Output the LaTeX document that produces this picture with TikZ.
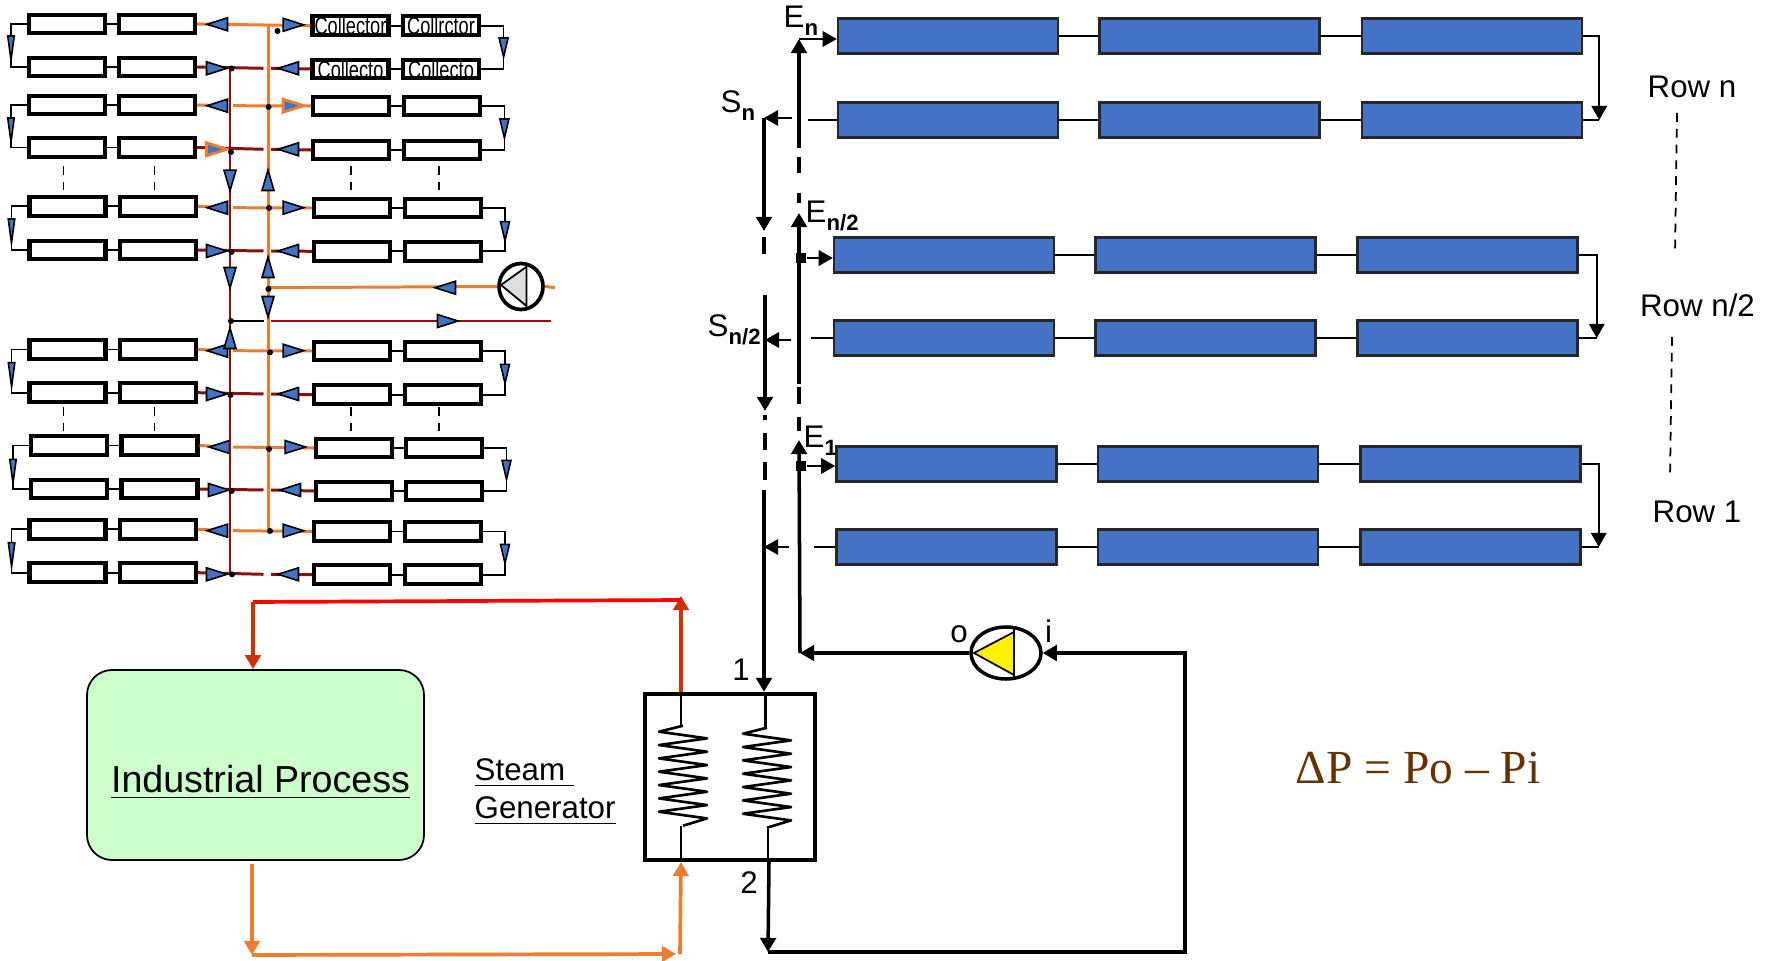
\documentclass[tikz,border=0pt]{standalone}
\usepackage{fontspec}
\setmainfont{Liberation Sans}
\newfontfamily\formulafont{Liberation Serif}
\usetikzlibrary{arrows.meta,shapes.geometric,calc}
\definecolor{tipblue}{HTML}{4472C4}
\definecolor{hotline}{HTML}{ED7D31}
\definecolor{coldline}{HTML}{8E0F0F}
\definecolor{steamred}{HTML}{CC3300}
\definecolor{procgreen}{HTML}{CCFFCC}
\definecolor{formulabrown}{HTML}{663300}
\newcommand{\colltext}[1]{\smash{\makebox[0pt]{\raisebox{-2.6pt}{\scalebox{0.74}[1]{\fontsize{7}{7}\selectfont #1}}}}}
\newcommand{\sublab}[2]{#1\raisebox{-2pt}{\fontsize{6.3}{7}\selectfont\bfseries #2}}
\tikzset{
    collbox/.style={draw, fill=white, line width=1.15pt, inner sep=0pt, minimum width=7.6mm, minimum height=1.85mm},
    plantbox/.style={draw=black!85, fill=tipblue, line width=0.7pt, inner sep=0pt, minimum width=22mm, minimum height=3.5mm},
    flowtip/.style={isosceles triangle, isosceles triangle stretches, draw=black, fill=tipblue, line width=0.45pt, inner sep=0pt, outer sep=0pt, minimum width=1.3mm, minimum height=2.05mm, anchor=apex},
    hottip/.style={flowtip, draw=hotline, line width=0.8pt},
    looptip/.style={flowtip, minimum width=0.65mm, minimum height=2.4mm},
    sidetip/.style={flowtip, minimum width=0.9mm, minimum height=1.9mm},
    dotnode/.style={circle, fill=black, inner sep=0pt, minimum size=0.6mm},
    sqnode/.style={rectangle, fill=black, inner sep=0pt, minimum size=1mm},
    wire/.style={line width=0.5pt},
    mainline/.style={line width=1pt},
    hotpipe/.style={hotline, line width=0.85pt},
    coldpipe/.style={coldline, line width=0.85pt},
    tipend/.style={-{Triangle[length=4pt,width=4.4pt]}},
    labeltext/.style={font=\fontsize{8.9}{10.8}\selectfont, inner sep=0pt, anchor=base},
    coil/.pic={\draw[line width=0.75pt, line join=round] (0,0) -- (-24,6) \foreach \k in {1,...,6} {-- ++(48,6.67) -- ++(-48,6.67)} -- ++(48,6.67) -- ++(-24,7.3);}
}
\begin{document}
\begin{tikzpicture}[x=0.1mm, y=-0.1mm]
    \useasboundingbox (0,0) rectangle (1771,961);
    \foreach \r/\xa/\xb/\y in {1/67/157/24, 2/67/157/67, 3/67/157/105, 4/67/157/147.5, 5/67.5/158/206.3, 6/67.5/158/250, 7/67.5/158/349.5, 8/67.5/158/392.7, 9/69/159.5/445.5, 10/69/159.5/489, 11/67.5/158/529.3, 12/67.5/158/572.7} {
        \node[collbox] (La\r) at (\xa,\y) {};
        \node[collbox] (Lb\r) at (\xb,\y) {};
        \draw[wire] (La\r) -- (Lb\r);
    }
    \foreach \r/\xa/\xb/\y/\ta/\tb in {1/350.5/441/25.7/Collector/Collrctor, 2/350.5/441/69/Collecto/Collecto, 3/351/442/106//, 4/351/442/150//, 5/352/443/208//, 6/352/443/251.3//, 7/352/443/351//, 8/352/443/394.7//, 9/354/444/448//, 10/354/444/491//, 11/352/443/531.5//, 12/352/443/574.7//} {
        \node[collbox] (Ra\r) at (\xa,\y) {\colltext{\ta}};
        \node[collbox] (Rb\r) at (\xb,\y) {\colltext{\tb}};
        \draw[wire] (Ra\r) -- (Rb\r);
    }
    \foreach \p/\q/\tl/\tipy/\tr/\ry in {1/2/11/60/503.6/57, 3/4/11/142/504.4/138, 5/6/11.5/243/505/240.7, 7/8/11.6/386.7/505/383.3, 9/10/13/483.3/506.5/479.3, 11/12/11.6/566.7/505/563.3} {
        \draw[wire] (La\p.west) -| (\tl,\tipy) |- (La\q.west);
        \draw[wire] (Rb\p.east) -| (\tr,\ry) |- (Rb\q.east);
        \node[looptip, rotate=-90] (Lloop\p) at (\tl,\tipy) {};
        \node[sidetip, rotate=-90] (Rloop\p) at (\tr,\ry) {};
    }
    \foreach \r/\y/\dx in {3/105.7/0, 5/207.7/0, 7/350.7/0, 9/447/2, 11/530.7/0} {
        \coordinate (Oa\r) at (228,\y);
        \coordinate (Ob\r) at (233,\y);
        \draw[hotpipe] (Lb\r.east) -- (Oa\r) (Ob\r) -- (Ra\r.west);
        \node[flowtip, rotate=180] (Otl\r) at (207+\dx,\y) {};
    }
    \draw[hotpipe] (Lb1.east) -- (Ra1.west);
    \node[flowtip, rotate=180] (Otl1) at (207,24.3) {};
    \foreach \r/\y/\dx in {1/24.8/0, 5/207.7/0, 7/350.7/0, 9/447/2, 11/530.7/0} {
        \node[flowtip] (Otr\r) at (303.6+\dx,\y) {};
    }
    \node[hottip] (Otr3) at (303.6,105.7) {};
    \foreach \r/\y/\dx in {2/68.3/0, 4/149.3/0, 6/251/0, 8/394/0, 10/490/2, 12/574.3/0} {
        \coordinate (Ca\r) at (263.5,\y);
        \coordinate (Cb\r) at (271,\y);
        \draw[coldpipe] (Lb\r.east) -- (Ca\r) (Cb\r) -- (Ra\r.west);
        \node[flowtip, rotate=180] (Ctr\r) at (278+\dx,\y) {};
    }
    \foreach \r/\y/\dx in {2/68.3/0, 6/251/0, 8/394/0, 10/490/2, 12/574.3/0} {
        \node[flowtip] (Ctl\r) at (227+\dx,\y) {};
    }
    \node[hottip] (Ctl4) at (227,149.3) {};
    \coordinate (redtop) at (230,68.3);
    \coordinate (redbot) at (230,574.3);
    \coordinate (hottop) at (268.4,24.3);
    \coordinate (hotbot) at (268.4,530.7);
    \draw[coldpipe] (redtop) -- (redbot);
    \draw[hotpipe] (hottop) -- (hotbot);
    \node[flowtip, rotate=-90, minimum width=1.2mm] (Rdown1) at (230,190.7) {};
    \node[flowtip, rotate=-90, minimum width=1.2mm] (Rdown2) at (230,288) {};
    \node[flowtip, rotate=90, minimum width=1.2mm] (Rup1) at (230,328) {};
    \node[flowtip, rotate=90, minimum width=1.2mm] (Hup1) at (268,170) {};
    \node[flowtip, rotate=90, minimum width=1.2mm] (Hup2) at (268,257) {};
    \node[flowtip, rotate=-90, minimum width=1.2mm] (Hdown1) at (268,317) {};
    \foreach \x in {63.6,154.5,351,439} {
        \foreach \ya/\yb in {166/190, 407/431} {
            \draw[wire, dash pattern=on 2.5pt off 2pt] (\x,\ya) -- (\x,\yb);
        }
    }
    \node[draw, ellipse, line width=1.05pt, inner sep=0pt, minimum width=4.4mm, minimum height=4.6mm] (hpump) at (521,286.5) {};
    \draw[wire, fill=black!13] (501,285) -- (526.5,266.7) -- (526.5,306) -- cycle;
    \coordinate (hotin) at (555,287.7);
    \coordinate (hotjn) at (268.4,287.7);
    \coordinate (coldout) at (551,321);
    \coordinate (coldjn) at (231,321);
    \draw[hotpipe] (hpump.west) -- (hotjn) (hpump.east) -- (hotin);
    \draw[coldpipe] (271,321) -- (coldout);
    \draw[wire, line width=0.7pt] (coldjn) -- (264,321);
    \node[flowtip, rotate=180] (hottipin) at (435,287.7) {};
    \node[flowtip] (coldtipout) at (458,321) {};
    \foreach \i/\x/\y in {1/277.5/31, 2/231.6/68.5, 3/268.6/107, 4/231/152, 5/269/208, 6/231.6/252, 7/268.4/289, 8/231/321, 9/270/352.3, 10/230.5/395, 11/269/449, 12/231.6/491, 13/270/531, 14/232/574.3} {
        \node[dotnode] (dot\i) at (\x,\y) {};
    }
    \foreach \n/\xa/\xb/\xc/\y in {1/948/1209.5/1472/36, 2/948/1209.5/1472/120, 3/944/1205.5/1467.5/255, 4/944/1205.5/1467.5/338, 5/946.5/1208/1470.5/464, 6/946.5/1208/1470.5/547} {
        \node[plantbox] (Pa\n) at (\xa,\y) {};
        \node[plantbox] (Pb\n) at (\xb,\y) {};
        \node[plantbox] (Pc\n) at (\xc,\y) {};
        \draw[wire] (Pa\n) -- (Pb\n);
        \draw[wire] (Pb\n) -- (Pc\n);
    }
    \foreach \p/\q/\lx in {1/2/16, 3/4/18, 5/6/17} {
        \draw[wire] (Pc\q.east) -- ++(\lx,0) coordinate (Ptip\p);
        \draw[wire, tipend] (Pc\p.east) -- ++(\lx,0) -- (Ptip\p);
    }
    \coordinate (En) at (799,39);
    \coordinate (Enn) at (799,213);
    \coordinate (Eo) at (799,440);
    \coordinate (Sn) at (764,118);
    \coordinate (Snn) at (765,340);
    \coordinate (So) at (764,547);
    \coordinate (Eb) at (800,653);
    \node[sqnode] (Ejn) at (801,258) {};
    \node[sqnode] (Ejo) at (801,466) {};
    \draw[wire, tipend] (En) -- (Pa1.west |- En);
    \draw[wire, tipend] (Ejn) -- (Pa3.west |- Ejn);
    \draw[wire, tipend] (Ejo) -- (Pa5.west |- Ejo);
    \draw[wire] (Pa2.west) -- (808,120);
    \draw[wire] (Pa4.west) -- (811,338);
    \draw[wire] (Pa6.west) -- (814,547);
    \draw[wire, tipend] (792,118) -- (Sn);
    \draw[wire, tipend] (791,340) -- (Snn);
    \draw[wire, tipend] (789,547) -- (So);
    \draw[mainline, tipend] (799,148) -- (En);
    \draw[mainline] (799,157) -- (799,173);
    \draw[mainline] (799,193) -- (799,203);
    \draw[mainline, tipend] (799,384) -- (Enn);
    \draw[mainline] (799,387) -- (799,404);
    \draw[mainline] (799,417) -- (799,431);
    \draw[mainline, tipend] (Eb) -- (Eo);
    \draw[mainline, tipend] (Sn) -- (764,231);
    \draw[mainline] (764,237) -- (764,254);
    \draw[mainline, tipend] (765,295) -- (765,411);
    \draw[mainline] (765,415) -- (765,420);
    \draw[mainline] (765,433) -- (765,450);
    \draw[mainline] (765,462) -- (765,480);
    \node[draw, rectangle, line width=1.2pt, inner sep=0pt, minimum width=17mm, minimum height=16.6mm] (sgen) at (730,777) {};
    \draw[mainline, tipend] (764,490) -- (764,490 |- sgen.north);
    \pic at (683,725.7) {coil};
    \pic at (767,727.7) {coil};
    \draw[wire, line width=0.7pt] (681,695) -- (681,726) (681,826) -- (681,862);
    \draw[wire, line width=0.7pt] (765.5,695) -- (765.5,728) (768,829) -- (768,862);
    \node[draw, ellipse, line width=1pt, inner sep=0pt, minimum width=7mm, minimum height=5.2mm] (spump) at (1006,653) {};
    \draw[wire, fill=yellow] (974,653) -- (1014,632) -- (1014,675) -- cycle;
    \draw[wire] (1014,628) -- (1014,678);
    \coordinate (Rb) at (768,952);
    \draw[mainline, tipend] (spump.west) -- (Eb);
    \draw[mainline, tipend] (769,862) -- (Rb);
    \draw[mainline, tipend] (Rb) -- (1185,952) -- (1185,653) -- (spump.east);
    \node[draw, fill=procgreen, rectangle, rounded corners=2.5mm, line width=0.5pt, inner sep=0pt, minimum width=33.7mm, minimum height=19mm] (proc) at (255.5,765) {};
    \coordinate (ghot) at (681,692);
    \coordinate (gcold) at (681,862);
    \coordinate (rtop) at (253,602);
    \coordinate (rgen) at (681,600);
    \coordinate (obot) at (252,955);
    \coordinate (ogen) at (680,954);
    \draw[steamred, line width=1.05pt, tipend] (ghot) -- (681,596);
    \draw[red, line width=1.05pt] (rgen) -- (rtop);
    \draw[steamred, line width=1.05pt, tipend] (rtop) -- (proc.north -| rtop);
    \draw[hotline, line width=1.05pt, tipend] (252,864) -- (obot);
    \draw[hotline, line width=1.05pt, tipend] (obot) -- (676,954);
    \draw[hotline, line width=1.05pt, tipend] (ogen) -- (gcold);
    \node[labeltext, font=\fontsize{10.7}{12}\selectfont] (proctext) at (260.5,792) {\underline{Industrial Process}};
    \node[labeltext, anchor=base west] (steamtext) at (474,780) {\underline{Steam\ }};
    \node[labeltext, anchor=base west] (gentext) at (474,818) {\underline{Generator}};
    \node[labeltext] (lab1) at (741,680) {1};
    \node[labeltext] (lab2) at (749,893) {2};
    \node[labeltext] (labo) at (959,642) {o};
    \node[labeltext] (labi) at (1048.6,642) {i};
    \node[labeltext, anchor=base west] (labEn) at (783,28) {\sublab{E}{n}};
    \node[labeltext, anchor=base west] (labSn) at (720,113) {\sublab{S}{n}};
    \node[labeltext, anchor=base west] (labEnn) at (805,223) {\sublab{E}{n/2}};
    \node[labeltext, anchor=base west] (labSnn) at (707,337) {\sublab{S}{n/2}};
    \node[labeltext, anchor=base west] (labEo) at (803,448) {\sublab{E}{1}};
    \node[labeltext] (rown) at (1692,98) {Row n};
    \node[labeltext] (rownn) at (1697.5,317) {Row n/2};
    \node[labeltext] (rowo) at (1697,522) {Row 1};
    \coordinate (dashna) at (1677,113);
    \coordinate (dashnb) at (1675,254);
    \coordinate (dashoa) at (1672,337);
    \coordinate (dashob) at (1670,478);
    \draw[wire, dash pattern=on 2.5pt off 2pt] (dashna) -- (dashnb);
    \draw[wire, dash pattern=on 2.5pt off 2pt] (dashoa) -- (dashob);
    \node[inner sep=0pt, anchor=base west, formulabrown, font=\formulafont\fontsize{13.5}{15}\selectfont] (formula) at (1295,783) {ΔP = Po – Pi};
\end{tikzpicture}
\end{document}
